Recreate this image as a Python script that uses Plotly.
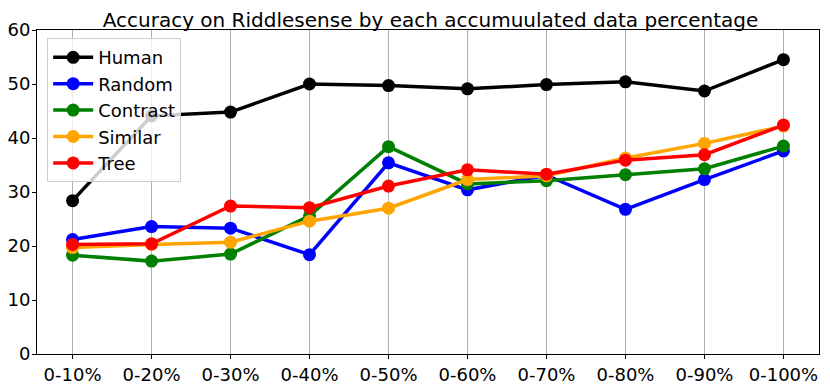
import plotly.graph_objects as go

# data
categories = ["0-10%", "0-20%", "0-30%", "0-40%", "0-50%",
              "0-60%", "0-70%", "0-80%", "0-90%", "0-100%"]
human = [28.4, 44.1, 44.8, 50.0, 49.7, 49.1, 49.9, 50.4, 48.7, 54.5]
random_sel = [21.2, 23.6, 23.3, 18.4, 35.4, 30.4, 33.1, 26.8, 32.3, 37.6]
contrast = [18.3, 17.2, 18.5, 25.6, 38.4, 31.5, 32.1, 33.2, 34.3, 38.5]
similar = [19.7, 20.3, 20.7, 24.6, 27.0, 32.3, 33.0, 36.3, 39.0, 42.2]
tree = [20.3, 20.4, 27.4, 27.1, 31.1, 34.1, 33.3, 35.9, 36.9, 42.4]

series = [
    ("Human", human, "black"),
    ("Random", random_sel, "blue"),
    ("Contrast", contrast, "green"),
    ("Similar", similar, "orange"),
    ("Tree", tree, "red"),
]

fig = go.Figure()
for name, vals, color in series:
    fig.add_trace(
        go.Scatter(
            x=list(range(len(categories))),
            y=vals,
            mode="lines+markers",
            name=name,
            line=dict(color=color, width=3.5),
            marker=dict(color=color, size=13),
        )
    )

# page body has an 8px default margin, so the figure is a bit smaller than the window
fig.update_layout(
    width=822,
    height=378,
    margin=dict(l=29, r=11, t=22, b=32, autoexpand=False),
    plot_bgcolor="white",
    paper_bgcolor="white",
    font=dict(family="DejaVu Sans", size=18, color="black"),
    title=dict(
        text="Accuracy on Riddlesense by each accumuulated data percentage",
        x=0.514, xanchor="center", y=0.968, yanchor="middle",
        font=dict(size=20),
    ),
    legend=dict(
        x=0.013, y=0.975, xanchor="left", yanchor="top",
        bgcolor="rgba(255,255,255,0.8)",
        bordercolor="#cccccc", borderwidth=1,
        font=dict(size=18),
        itemwidth=40,
    ),
    showlegend=True,
)

fig.update_xaxes(
    tickmode="array",
    tickvals=list(range(len(categories))),
    ticktext=categories,
    range=[-0.45, 9.45],
    automargin=False,
    showgrid=True, gridcolor="#b0b0b0", gridwidth=1,
    showline=True, linecolor="black", linewidth=1, mirror=True,
    ticks="outside", ticklen=4, tickcolor="black",
    zeroline=False,
)
fig.update_yaxes(
    range=[0, 60],
    dtick=10,
    automargin=False,
    showgrid=False,
    showline=True, linecolor="black", linewidth=1, mirror=True,
    ticks="outside", ticklen=4, tickcolor="black",
    ticklabelstandoff=-2,
    zeroline=False,
)

fig.write_html("out.html")
